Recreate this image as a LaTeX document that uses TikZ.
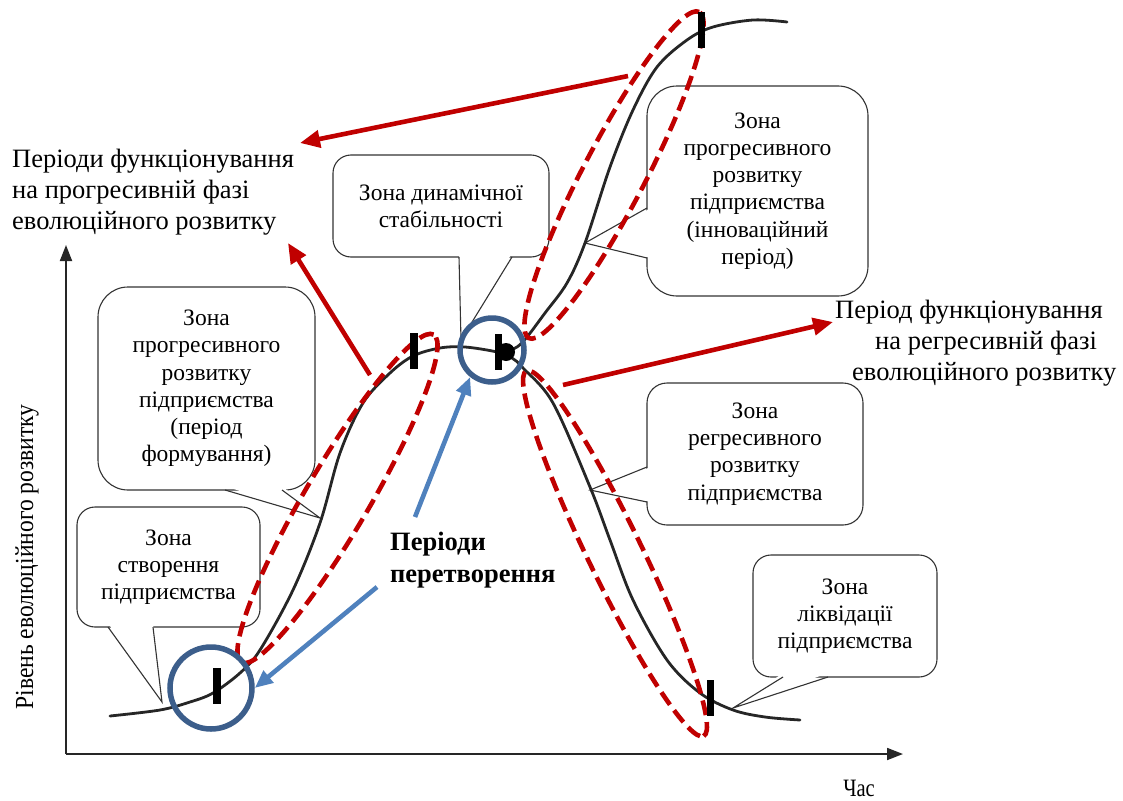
\documentclass[tikz,border=0pt]{standalone}
\usepackage{fontspec}
\setmainfont{Liberation Serif}
\usetikzlibrary{arrows.meta}
\definecolor{dred}{HTML}{C00000}
\definecolor{cblue}{HTML}{3C5E8B}
\definecolor{ablue}{HTML}{4F81BD}
\begin{document}
\begin{tikzpicture}[x=1pt,y=-1pt,
  callout/.style={draw=black!80, line width=1.1pt, fill=white, inner sep=0pt,
    font=\fontsize{23.5}{27.2}\selectfont, align=center},
  ptr/.style={draw=black!80, line width=1.1pt, line join=miter},
  maintext/.style={font=\fontsize{26.5}{31}\selectfont, inner sep=0pt, align=left},
  curve/.style={line width=2.8pt, black!85, line cap=round},
  zone/.style={dred, line width=4.6pt, dash pattern=on 15pt off 7pt},
  redarrow/.style={dred, line width=4.6pt, -{Triangle[length=20pt,width=17pt]}},
  bluearrow/.style={ablue, line width=4.6pt, -{Triangle[length=18pt,width=15pt]}},
  ring/.style={cblue, line width=5.5pt},
  tickbar/.style={fill=black, inner sep=0pt, minimum width=8pt, minimum height=36pt}
]
\useasboundingbox (0,0) rectangle (1123,800);

% axes
\coordinate (O) at (66,754);
\coordinate (Ytop) at (66,245);
\coordinate (Xend) at (903,754);
\draw[line width=1.8pt, black!85, -{Triangle[length=16pt,width=12pt]}] (O) -- (Ytop);
\draw[line width=1.8pt, black!85, -{Triangle[length=16pt,width=12pt]}] (O) -- (Xend);
\node[font=\fontsize{26}{30}\selectfont, rotate=90, xscale=0.905] (ylab) at (27,557) {Рівень еволюційного розвитку};
\node[font=\fontsize{25}{30}\selectfont, xscale=0.82] (xlab) at (859,788) {Час};

% callouts
\node[callout, rounded corners=18pt, minimum width=183pt, minimum height=120pt] (c1) at (168.5,567)
  {Зона\\створення\\підприємства};
\fill[white] (108,623) -- (162,702) -- (153,623) -- cycle;
\draw[ptr] (108,627) -- (162,702) -- (153,627);

\node[callout, rounded corners=30pt, minimum width=217pt, minimum height=203pt] (c2) at (206.5,388.5)
  {Зона\\прогресивного\\розвитку\\підприємства\\(період\\формування)};
\fill[white] (225,486) -- (320,518) -- (282,486) -- cycle;
\draw[ptr] (225,490) -- (320,518) -- (282,490);

\node[callout, rounded corners=18pt, minimum width=216pt, minimum height=102pt] (c3) at (441,206)
  {Зона динамічної\\стабільності};
\fill[white] (459,253) -- (461,340) -- (512,253) -- cycle;
\draw[ptr] (459,257) -- (461,340) -- (512,257);

\node[callout, rounded corners=30pt, minimum width=221pt, minimum height=210pt] (c4) at (757.5,191)
  {Зона\\прогресивного\\розвитку\\підприємства\\(інноваційний\\період)};
\fill[white] (651,208) -- (585,243) -- (651,258) -- cycle;
\draw[ptr] (647,208) -- (585,243) -- (647,258);

\node[callout, rounded corners=20pt, minimum width=216pt, minimum height=142pt] (c5) at (755,454)
  {Зона\\регресивного\\розвитку\\підприємства};
\fill[white] (651,467) -- (590,490) -- (651,502) -- cycle;
\draw[ptr] (647,467) -- (590,490) -- (647,502);

\node[callout, rounded corners=18pt, minimum width=184pt, minimum height=122pt] (c6) at (845,616)
  {Зона\\ліквідації\\підприємства};
\fill[white] (783,673) -- (733,708) -- (828,673) -- cycle;
\draw[ptr] (783,677) -- (733,708) -- (828,677);

% curve
\draw[curve] plot[smooth, tension=0.55] coordinates {
  (110,716) (160,710) (190,702) (213,693) (240,673) (260,650) (293,590) (320,523)
  (340,453) (363,403) (390,373) (413,356) (440,348) (465,347) (497,352) (512,358)
  (523,368) (553,403) (590,487) (610,540) (633,600) (667,660) (700,693) (733,710)
  (765,717) (800,720)};
\draw[curve] plot[smooth, tension=0.55] coordinates {
  (505,352) (517,347) (527,337) (545,313) (567,283) (585,243) (610,167) (633,110)
  (657,67) (687,40) (713,27) (753,20) (787,22)};

% dashed zones
\coordinate (e1) at (337.5,498.5);
\coordinate (e2) at (614,175);
\coordinate (e3) at (615,553.5);
\draw[zone, rotate around={59.6:(e1)}] (e1) ellipse [x radius=190pt, y radius=32pt];
\draw[zone, rotate around={62.4:(e2)}] (e2) ellipse [x radius=184pt, y radius=31pt];
\draw[zone, rotate around={-64.1:(e3)}] (e3) ellipse [x radius=203pt, y radius=27pt];

% ticks
\node[tickbar] (t1) at (217,686) {};
\node[tickbar] (t2) at (414,351) {};
\node[tickbar, minimum width=7pt] (t3) at (498.5,352) {};
\fill (506,352) circle [radius=9pt];
\node[tickbar, minimum width=7pt] (t4) at (701.5,30.5) {};
\node[tickbar, minimum width=7pt] (t5) at (710.5,698) {};

% rings
\node[ring, draw, circle, minimum size=82pt, inner sep=0pt] (r1) at (211,688) {};
\node[ring, draw, circle, minimum size=64pt, inner sep=0pt] (r2) at (492,350) {};

% texts
\node[maintext, anchor=north west] (t_prog) at (12,149)
  {Періоди функціонування\\на прогресивній фазі\\еволюційного розвитку};
\node[maintext, anchor=north west] (t_regr) at (835,299.5)
  {Період функціонування\\\hspace*{40pt}на регресивній фазі\\\hspace*{17pt}еволюційного розвитку};
\node[maintext, anchor=north west, font=\bfseries\fontsize{26.5}{32}\selectfont] (t_trans) at (390,532)
  {Періоди\\перетворення};

% red arrows
\coordinate (a1s) at (628,76);
\coordinate (a2s) at (370,375);
\coordinate (a3s) at (563,385);
\coordinate (a1e) at (300,143);
\coordinate (a2e) at (288,243);
\coordinate (a3e) at (833,322);
\draw[redarrow] (a1s) -- (a1e);
\draw[redarrow] (a2s) -- (a2e);
\draw[redarrow] (a3s) -- (a3e);

% blue arrows
\coordinate (b1s) at (377,587);
\coordinate (b2s) at (415,517);
\draw[bluearrow] (b1s) -- (r1.east);
\draw[bluearrow] (b2s) -- (r2.231);
\end{tikzpicture}
\end{document}
